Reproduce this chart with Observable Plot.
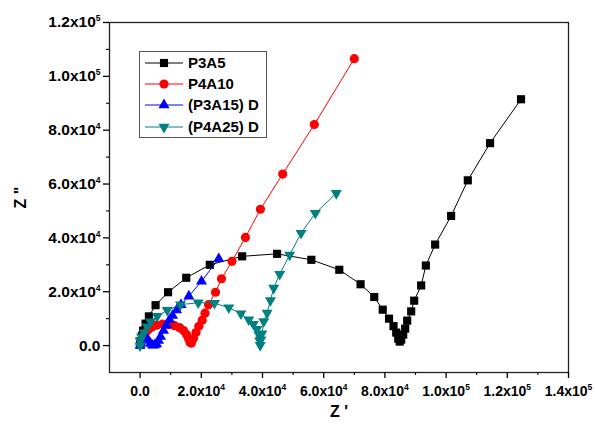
<!DOCTYPE html>
<html><head><meta charset="utf-8">
<script src="https://cdn.jsdelivr.net/npm/d3@7"></script>
<script src="https://cdn.jsdelivr.net/npm/@observablehq/plot@0.6"></script>
<style>
body{margin:0;background:#fff;}
#wrap{position:relative;width:595px;height:430px;font-family:"Liberation Sans",Arial,sans-serif;}
#legend{position:absolute;left:139px;top:51px;}
</style></head><body><div id="wrap"></div>
<script>
// ---- series ----
const seriesNames  = ["P3A5", "P4A10", "(P3A15) D", "(P4A25) D"];
const seriesColors = ["#000000", "#ff0000", "#0000ff", "#008080"];

const p3a5X = [0,163,653,979,1795,2871,5058,9136,15075,22776,33348,44768,55960,65096,72047,76517,79291,81346,82815,83696,84349,84838,85328,85981,86633,87286,88591,89570,91854,93388,96422,101643,107093,114370,124485];
const p3a5Y = [370,1667,3704,5556,8148,10852,15000,19815,25185,30000,33150,34077,31855,28150,22780,18040,13334,10000,7222,4815,2593,1482,2222,4074,6297,9260,12704,16667,22334,29741,37519,48149,61374,75186,91489];

const p4a10X = [163,653,1468,2447,3752,5384,7342,9299,11257,12889,14194,15173,15826,16315,16804,17457,18273,19186,20296,21210,22352,24636,26594,30020,34425,39320,46596,56938,69990];
const p4a10Y = [370,2222,4074,5556,6852,7593,7964,7778,7408,6667,5556,4074,2593,1111,926,2593,4815,7149,9445,12038,15186,19815,24815,31297,40186,50631,63705,82117,106563];

const p3a15X = [0,163,653,1305,2121,2774,3426,4079,4731,5384,6037,6689,7668,8647,9626,10605,11910,13378,15924,20067,25713];
const p3a15Y = [0,1111,2222,2778,2593,1852,741,100,200,556,1852,3334,5556,7593,9630,11112,13149,15186,18335,23891,32225];

const p4a25X = [0,0,489,1305,2284,3426,5612,8875,13215,18991,24310,28976,32956,35501,37035,38178,38830,39091,39254,39482,39809,40396,41506,42582,43659,45617,48880,52600,57266,64119];
const p4a25Y = [0,1852,3334,4815,7038,8890,10927,13149,15186,15927,15742,14075,11853,9630,7964,6112,4074,1852,100,2222,4445,9001,12112,16779,21372,26558,33706,41744,49152,56560];

// ---- axes ----
const xTickValues = [0, 20000, 40000, 60000, 80000, 100000, 120000, 140000];
const xTickLabels = ["0.0", "2.0x10^4", "4.0x10^4", "6.0x10^4", "8.0x10^4", "1.0x10^5", "1.2x10^5", "1.4x10^5"];
const xMinorTicks = [10000, 30000, 50000, 70000, 90000, 110000, 130000];
const yTickValues = [0, 20000, 40000, 60000, 80000, 100000, 120000];
const yTickLabels = ["0.0", "2.0x10^4", "4.0x10^4", "6.0x10^4", "8.0x10^4", "1.0x10^5", "1.2x10^5"];
const yMinorTicks = [10000, 30000, 50000, 70000, 90000, 110000];
const xTitle = "Z '";
const yTitle = 'Z "';

// down-pointing triangle symbol
const triangleDown = {
  draw(context, size) {
    const y = -Math.sqrt(size / (Math.sqrt(3) * 3));
    context.moveTo(0, -y * 2);
    context.lineTo(-Math.sqrt(3) * y, y);
    context.lineTo(Math.sqrt(3) * y, y);
    context.closePath();
  }
};
const seriesSymbols = ["square", "circle", "triangle", triangleDown];
const seriesR = [4.6, 4.6, 4.1, 4.1];

const xs = [p3a5X, p4a10X, p3a15X, p4a25X];
const ys = [p3a5Y, p4a10Y, p3a15Y, p4a25Y];
const series = seriesNames.map((name, k) => ({
  name, color: seriesColors[k], symbol: seriesSymbols[k], r: seriesR[k],
  data: xs[k].map((x, i) => ({x, y: ys[k][i]}))
}));

const marks = [];
for (const s of series) {
  marks.push(Plot.line(s.data, {x: "x", y: "y", stroke: s.color, strokeWidth: 1}));
  marks.push(Plot.dot(s.data, {x: "x", y: "y", fill: s.color, stroke: "none", symbol: s.symbol, r: s.r}));
}

const chart = Plot.plot({
  width: 595, height: 430,
  marginLeft: 109, marginRight: 27, marginTop: 22, marginBottom: 58,
  style: {fontFamily: '"Liberation Sans", Arial, sans-serif', fontSize: "13.5px", fontWeight: "bold", background: "#fff", color: "#000"},
  x: {domain: [-10000, 140000]},
  y: {domain: [-10000, 120000]},
  marks: [
    ...marks,
    Plot.frame({stroke: "#222", strokeWidth: 1.3}),
    Plot.axisX(xTickValues, {tickSize: 6, tickPadding: 8, fontSize: 14, tickFormat: d => xTickLabels[xTickValues.indexOf(d)], label: xTitle, labelArrow: "none", labelAnchor: "center", labelOffset: 44, strokeWidth: 1.3}),
    Plot.axisX(xMinorTicks, {tickSize: 3, tickFormat: () => "", label: null, strokeWidth: 1.1}),
    Plot.axisY(yTickValues, {tickSize: 6, tickPadding: 3, fontSize: 15.5, tickFormat: d => yTickLabels[yTickValues.indexOf(d)], label: yTitle, labelArrow: "none", labelAnchor: "center", labelOffset: 95, strokeWidth: 1.3}),
    Plot.axisY(yMinorTicks, {tickSize: 3, tickFormat: () => "", label: null, strokeWidth: 1.1})
  ]
});

// strip any label arrows, enlarge titles
d3.select(chart).selectAll("text").each(function () {
  const t = this.textContent.replace(/\s*[→↑←↓]\s*/g, "").replace(/^[→↑]\s*/, "");
  if (t === xTitle || t === yTitle) {
    d3.select(this).text(t).attr("font-size", "16px").attr("font-weight", "bold");
  }
});
// superscript exponents in tick labels
d3.select(chart).selectAll("text").each(function () {
  const t = this.textContent;
  const m = t.match(/^(.*)\^(\d+)$/);
  if (!m) return;
  const sel = d3.select(this);
  sel.text(null);
  sel.append("tspan").text(m[1]);
  sel.append("tspan").attr("font-size", "8.5px").attr("dy", "-6").text(m[2]);
});

document.getElementById("wrap").appendChild(chart);

// ---- legend (overlay, inside plot area) ----
const lw = 127, lh = 86, rowY = [12, 33, 54, 76];
const leg = d3.select("#wrap").append("svg").attr("id", "legend")
  .attr("width", lw + 1).attr("height", lh + 1);
leg.append("rect").attr("x", 0.5).attr("y", 0.5).attr("width", lw).attr("height", lh)
  .attr("fill", "#fff").attr("stroke", "#555").attr("stroke-width", 1);
series.forEach((s, k) => {
  const g = leg.append("g").attr("transform", `translate(0,${rowY[k]})`);
  g.append("line").attr("x1", 6).attr("x2", 44).attr("y1", 0).attr("y2", 0)
    .attr("stroke", s.color).attr("stroke-width", 1);
  const symType = typeof s.symbol === "string"
    ? {square: d3.symbolSquare, circle: d3.symbolCircle, triangle: d3.symbolTriangle}[s.symbol]
    : s.symbol;
  g.append("path").attr("transform", "translate(25,0)")
    .attr("d", d3.symbol(symType, Math.PI * s.r * s.r)()).attr("fill", s.color);
  g.append("text").attr("x", 49).attr("y", 0).attr("dy", "0.35em")
    .attr("font-family", '"Liberation Sans", Arial, sans-serif')
    .attr("font-weight", "bold").attr("font-size", "15px").text(s.name);
});
</script></body></html>
